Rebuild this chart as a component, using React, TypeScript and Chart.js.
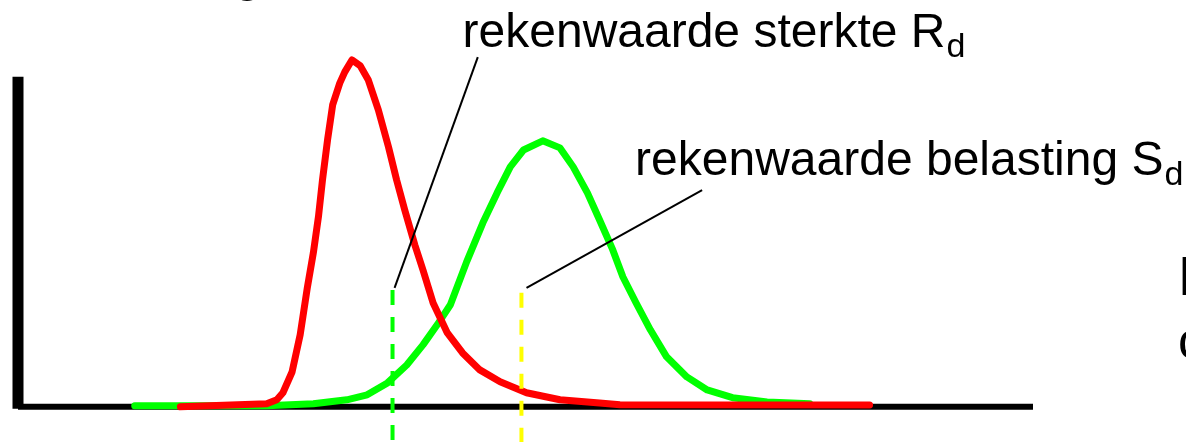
import { useEffect, useRef } from 'react';
import { Chart, registerables } from 'chart.js';

Chart.register(...registerables);

// Scale domain (abstract units: x = value, y = relative probability density)
const X_MIN = 0;
const X_MAX = 100;
const Y_MIN = -10;
const Y_MAX = 100;

// Strength distribution (red)
const strengthX = [16.0, 24.5, 25.5, 26.1, 27.0, 27.8, 28.5, 29.1, 29.6, 30.0, 30.5, 31.0, 31.7, 32.2, 32.9, 33.7, 34.5, 35.5, 36.5, 37.3, 38.1, 39.1, 39.9, 40.9, 42.3, 43.8, 45.5, 47.5, 50.1, 53.4, 57.3, 59.3, 83.9];
const strengthY = [0, 0.9, 2.0, 4.0, 9.9, 20.5, 33.8, 43.8, 54.0, 64.5, 75.9, 85.8, 92.0, 95.2, 98.6, 97.0, 93.0, 84.4, 73.9, 64.5, 56.0, 46.0, 38.9, 29.5, 21.0, 15.3, 10.5, 7.1, 4.0, 2.0, 1.1, 0.6, 0.5];

// Load distribution (green)
const loadX = [11.5, 24.5, 29.1, 32.4, 34.4, 36.4, 38.3, 39.9, 41.3, 42.6, 44.2, 45.8, 47.2, 48.5, 49.8, 51.7, 53.4, 54.7, 56.1, 57.3, 58.6, 59.6, 60.9, 62.3, 63.9, 65.9, 67.9, 70.4, 73.8, 78.0];
const loadY = [0.3, 0.3, 0.9, 2.0, 3.4, 6.8, 11.9, 17.6, 23.3, 29.0, 41.2, 52.3, 60.8, 68.2, 73.0, 75.6, 73.6, 68.2, 60.8, 53.1, 44.6, 36.9, 29.5, 21.9, 14.2, 8.5, 4.8, 2.6, 1.4, 0.9];

// Design values (dashed markers)
const designNames = ['R_d', 'S_d'];
const designX = [36.9, 49.6];
const designTop = [33.2, 32.4];
const designColors = ['#00ff00', '#ffff00'];

// Annotation labels and leader lines
const labelMain = ['rekenwaarde sterkte R', 'rekenwaarde belasting S'];
const labelSub = ['d', 'd'];
const labelX = [43.8, 60.8];
const labelY = [102.3, 65.9];
const leaderFromX = [37.1, 50.1];
const leaderFromY = [33.8, 33.8];
const leaderToX = [45.3, 67.4];
const leaderToY = [99.4, 61.6];

// Axis extent
const AXIS_Y_TOP = 93.8;

const FONT = '"Liberation Sans", Arial, Helvetica, sans-serif';

const overlayPlugin = {
  id: 'overlay',
  beforeDatasetsDraw(chart: any) {
    const { ctx, scales } = chart;
    const xs = scales.x;
    const ys = scales.y;
    ctx.save();
    ctx.strokeStyle = '#000';
    ctx.lineCap = 'butt';
    // horizontal axis
    ctx.lineWidth = 6;
    ctx.beginPath();
    ctx.moveTo(xs.getPixelForValue(X_MIN), ys.getPixelForValue(0));
    ctx.lineTo(xs.getPixelForValue(X_MAX), ys.getPixelForValue(0));
    ctx.stroke();
    // vertical axis
    ctx.lineWidth = 11;
    ctx.beginPath();
    ctx.moveTo(xs.getPixelForValue(X_MIN), ys.getPixelForValue(AXIS_Y_TOP));
    ctx.lineTo(xs.getPixelForValue(X_MIN), ys.getPixelForValue(0) + 2);
    ctx.stroke();
    ctx.restore();
  },
  afterDraw(chart: any) {
    const { ctx, scales } = chart;
    const xs = scales.x;
    const ys = scales.y;
    ctx.save();
    ctx.fillStyle = '#000';
    ctx.textBaseline = 'alphabetic';
    ctx.textAlign = 'left';
    for (let i = 0; i < labelMain.length; i++) {
      const x = xs.getPixelForValue(labelX[i]);
      const y = ys.getPixelForValue(labelY[i]);
      ctx.font = `48px ${FONT}`;
      ctx.fillText(labelMain[i], x, y);
      const w = ctx.measureText(labelMain[i]).width;
      ctx.font = `34px ${FONT}`;
      ctx.fillText(labelSub[i], x + w + 1, y + 10);
    }
    // partial slide text cut off at edges
    ctx.font = `52px ${FONT}`;
    ctx.fillText('g', 233, -10);
    ctx.fillText('h', 1179, 295);
    ctx.fillText('c', 1178, 358);
    ctx.restore();
  },
};

export default function App() {
  const canvasRef = useRef<HTMLCanvasElement | null>(null);

  useEffect(() => {
    document.body.style.margin = '0';
    const canvas = canvasRef.current;
    if (!canvas) return;

    const leaders = labelMain.map((_, i) => ({
      label: `leader ${i}`,
      data: [
        { x: leaderFromX[i], y: leaderFromY[i] },
        { x: leaderToX[i], y: leaderToY[i] },
      ],
      borderColor: '#000',
      borderWidth: 2,
      pointRadius: 0,
      clip: false as any,
    }));

    const dashed = designNames.map((name, i) => ({
      label: name,
      data: [
        { x: designX[i], y: designTop[i] },
        { x: designX[i], y: Y_MIN },
      ],
      borderColor: designColors[i],
      borderWidth: 4,
      borderDash: [15, 12],
      borderCapStyle: 'butt' as const,
      pointRadius: 0,
      clip: false as any,
    }));

    const chart = new Chart(canvas, {
      type: 'line',
      data: {
        datasets: [
          ...leaders,
          ...dashed,
          {
            label: 'sterkte',
            data: strengthX.map((x, i) => ({ x, y: strengthY[i] })),
            borderColor: '#ff0000',
            borderWidth: 7,
            borderCapStyle: 'round',
            borderJoinStyle: 'round',
            pointRadius: 0,
            tension: 0,
            clip: false as any,
          },
          {
            label: 'belasting',
            data: loadX.map((x, i) => ({ x, y: loadY[i] })),
            borderColor: '#00ff00',
            borderWidth: 7,
            borderCapStyle: 'round',
            borderJoinStyle: 'round',
            pointRadius: 0,
            tension: 0,
            clip: false as any,
          },
        ] as any,
      },
      options: {
        animation: false,
        responsive: false,
        events: [],
        layout: { padding: { left: 18, right: 153, top: 55, bottom: 0 } },
        scales: {
          x: { type: 'linear', min: X_MIN, max: X_MAX, display: false },
          y: { type: 'linear', min: Y_MIN, max: Y_MAX, display: false },
        },
        plugins: {
          legend: { display: false },
          tooltip: { enabled: false },
        },
      },
      plugins: [overlayPlugin],
    });

    return () => chart.destroy();
  }, []);

  return (
    <div style={{ width: 1186, height: 442, background: '#fff' }}>
      <canvas ref={canvasRef} width={1186} height={442} style={{ display: 'block' }} />
    </div>
  );
}
